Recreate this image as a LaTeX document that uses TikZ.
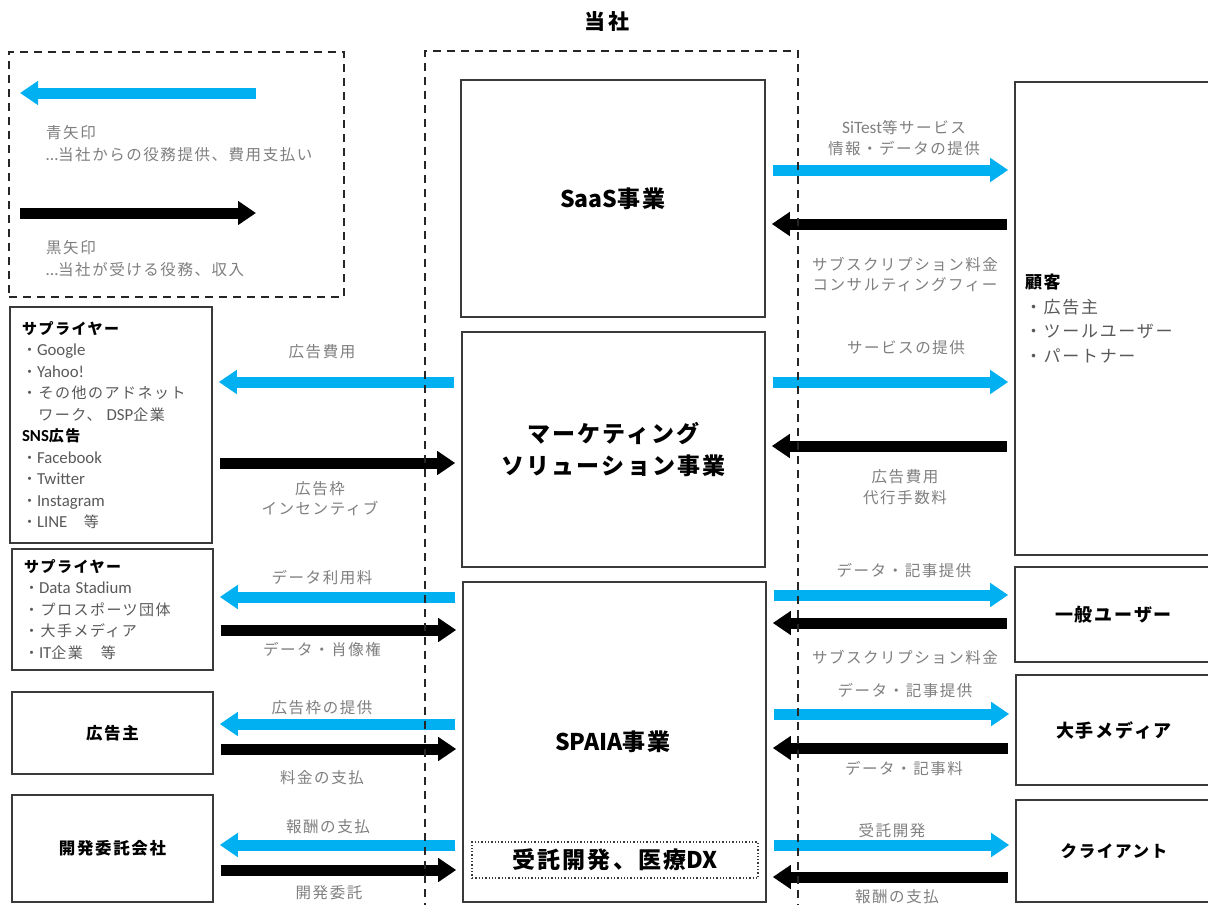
\documentclass[tikz,border=0pt]{standalone}
\usepackage{fontspec}
\setmainfont{Noto Sans CJK JP}[LetterSpace=10]
\newfontfamily\nols{Noto Sans CJK JP}
\newfontfamily\carl{Carlito}[Scale=1.12]
\newcommand\latw[1]{{\carl #1}}
\newcommand\nsp[1]{{\nols #1}}
\usetikzlibrary{arrows.meta}
\definecolor{abl}{HTML}{00B0F0}
\definecolor{lgray}{HTML}{7F7F7F}
\definecolor{mgray}{HTML}{595959}
\definecolor{bord}{HTML}{3A3A3A}
\tikzset{
  box/.style={draw=bord, line width=1.6pt, rectangle, inner sep=0pt},
  lbl/.style={text=lgray, font=\fontsize{15.5}{21}\selectfont, align=center, inner sep=0pt},
  title/.style={font=\bfseries\fontsize{23}{32}\selectfont, align=center},
  btitle/.style={font=\bfseries\fontsize{16.5}{20}\selectfont},
  rtitle/.style={font=\bfseries\fontsize{18}{20}\selectfont},
  barr/.style={draw=abl, line width=11pt, -{Triangle[width=23pt,length=18pt]}, shorten <=7pt, shorten >=6pt},
  karr/.style={draw=black, line width=11pt, -{Triangle[width=23pt,length=18pt]}, shorten <=7pt, shorten >=6pt},
  frame/.style={draw=black!85, dash pattern=on 8pt off 6pt, line width=1.8pt, rectangle, inner sep=0pt},
  listbox/.style={box, align=left, text=mgray, inner xsep=12pt, font=\fontsize{15}{21.5}\selectfont},
}
\begin{document}
\begin{tikzpicture}[x=1pt,y=-1pt]
\useasboundingbox (0,0) rectangle (1208,905);
\clip (0,0) rectangle (1208,905);
\fill[white] (0,0) rectangle (1208,905);

\node[font=\bfseries\fontsize{21}{24}\selectfont] (tosha) at (607,22) {当社};

% legend
\node[frame, minimum width=335pt, minimum height=245pt] (legend) at (176.5,174.5) {};
\coordinate (lb1) at (263,93);
\coordinate (lb2) at (14,93);
\coordinate (lk1) at (13,213);
\coordinate (lk2) at (262,213);
\draw[barr] (lb1) -- (lb2);
\draw[karr] (lk1) -- (lk2);
\node[lbl, align=left, anchor=west, font=\fontsize{15.5}{22}\selectfont] (lt1) at (46,144) {青矢印\\\latw{…}当社からの役務提供、費用支払い};
\node[lbl, align=left, anchor=west, font=\fontsize{15.5}{22}\selectfont] (lt2) at (46,259) {黒矢印\\\latw{…}当社が受ける役務、収入};

% central boxes
\node[box, title, minimum width=304pt, minimum height=237pt] (saas) at (613,198.5) {\nsp{SaaS}事業};
\node[box, title, minimum width=303pt, minimum height=235pt] (mkt) at (613.5,449.5) {マーケティング\\ソリューション事業};
\node[box, minimum width=303pt, minimum height=320pt] (spaia) at (614.5,742) {};
\node[title] (spaiat) at (613,742) {\nsp{SPAIA}事業};
\node[draw=bord, dotted, line width=1.3pt, minimum width=286pt, minimum height=36pt, inner sep=0pt, title] (dx) at (615,860) {受託開発、医療\nsp{DX}};

% left boxes
\node[listbox, text width=178pt, minimum height=236pt] (sup1) at (111,425) {%
{\color{black}\bfseries サプライヤー}\\
・\latw{Google}\\
・\latw{Yahoo!}\\
・その他のアドネット\\
\hspace*{16.5pt}ワーク、 \latw{DSP}企業\\
{\color{black}\bfseries\latw{SNS}広告}\\
・\latw{Facebook}\\
・\latw{Twitter}\\
・\latw{Instagram}\\
・\latw{LINE}　等};
\node[listbox, text width=177pt, minimum height=121pt] (sup2) at (112.5,609.5) {%
{\color{black}\bfseries サプライヤー}\\
・\latw{Data Stadium}\\
・プロスポーツ団体\\
・大手メディア\\
・\latw{IT}企業　等};
\node[box, btitle, minimum width=201pt, minimum height=82pt] (koukoku) at (112.5,733) {広告主};
\node[box, btitle, minimum width=201pt, minimum height=107pt] (kaihatsu) at (112.5,848.5) {開発委託会社};

% right boxes
\node[box, align=left, text=mgray, inner xsep=10pt, text width=185pt, minimum height=473pt, font=\fontsize{17}{24.5}\selectfont] (kokyaku) at (1117.5,318.5) {%
{\color{black}\bfseries 顧客}\\
・広告主\\
・ツールユーザー\\
・パートナー};
\node[box, rtitle, minimum width=197pt, minimum height=95pt] (ippan) at (1113.5,614.5) {一般ユーザー};
\node[box, rtitle, minimum width=196pt, minimum height=110pt] (daite) at (1114,730) {大手メディア};
\node[box, btitle, minimum width=196pt, minimum height=102pt] (client) at (1114,851) {クライアント};

% arrow rows
\coordinate (r1) at (0,170);
\coordinate (r2) at (0,224);
\coordinate (r3) at (0,382);
\coordinate (r4) at (0,446);
\coordinate (r5) at (0,595);
\coordinate (r6) at (0,623);
\coordinate (r7) at (0,714);
\coordinate (r8) at (0,748);
\coordinate (r9) at (0,845);
\coordinate (r10) at (0,877);
\coordinate (l1) at (0,382);
\coordinate (l2) at (0,463);
\coordinate (l3) at (0,597);
\coordinate (l4) at (0,630);
\coordinate (l5) at (0,724);
\coordinate (l6) at (0,749);
\coordinate (l7) at (0,845);
\coordinate (l8) at (0,870);

\draw[barr] (saas.east |- r1) -- (kokyaku.west |- r1);
\draw[karr] (kokyaku.west |- r2) -- (saas.east |- r2);
\draw[barr] (mkt.east |- r3) -- (kokyaku.west |- r3);
\draw[karr] (kokyaku.west |- r4) -- (mkt.east |- r4);
\draw[barr] (spaia.east |- r5) -- (ippan.west |- r5);
\draw[karr] (ippan.west |- r6) -- (spaia.east |- r6);
\draw[barr] (spaia.east |- r7) -- (daite.west |- r7);
\draw[karr] (daite.west |- r8) -- (spaia.east |- r8);
\draw[barr] (spaia.east |- r9) -- (client.west |- r9);
\draw[karr] (client.west |- r10) -- (spaia.east |- r10);

\draw[barr] (mkt.west |- l1) -- (sup1.east |- l1);
\draw[karr] (sup1.east |- l2) -- (mkt.west |- l2);
\draw[barr] (spaia.west |- l3) -- (sup2.east |- l3);
\draw[karr] (sup2.east |- l4) -- (spaia.west |- l4);
\draw[barr] (spaia.west |- l5) -- (koukoku.east |- l5);
\draw[karr] (koukoku.east |- l6) -- (spaia.west |- l6);
\draw[barr] (spaia.west |- l7) -- (kaihatsu.east |- l7);
\draw[karr] (kaihatsu.east |- l8) -- (spaia.west |- l8);

% labels left
\node[lbl] (la1) at (322,352) {広告費用};
\node[lbl, font=\fontsize{15.5}{20}\selectfont] (la2) at (320,499) {広告枠\\インセンティブ};
\node[lbl] (la3) at (322,578) {データ利用料};
\node[lbl] (la4) at (322,650) {データ・肖像権};
\node[lbl] (la5) at (322,708) {広告枠の提供};
\node[lbl] (la6) at (322,778) {料金の支払};
\node[lbl] (la7) at (328,827) {報酬の支払};
\node[lbl] (la8) at (329,893) {開発委託};

% labels right
\node[lbl] (ra1) at (904,138.5) {\latw{SiTest}等サービス\\情報・データの提供};
\node[lbl, font=\fontsize{15.5}{20}\selectfont] (ra2) at (905,274) {サブスクリプション料金\\コンサルティングフィー};
\node[lbl] (ra3) at (906,348) {サービスの提供};
\node[lbl] (ra4) at (905,487.5) {広告費用\\代行手数料};
\node[lbl] (ra5) at (904,571) {データ・記事提供};
\node[lbl] (ra6) at (905,657) {サブスクリプション料金};
\node[lbl] (ra7) at (905,691) {データ・記事提供};
\node[lbl] (ra8) at (904,769) {データ・記事料};
\node[lbl] (ra9) at (892,831) {受託開発};
\node[lbl] (ra10) at (897,897) {報酬の支払};

% company frame on top
\node[frame, minimum width=373pt, minimum height=908pt] (company) at (611.5,505) {};
\end{tikzpicture}
\end{document}
